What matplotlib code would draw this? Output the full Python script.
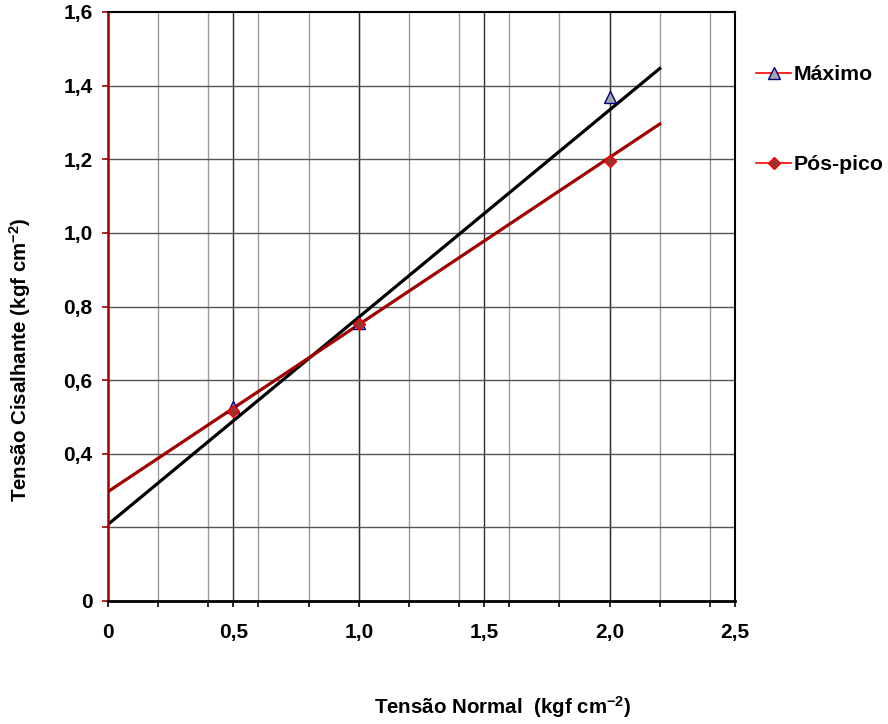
import numpy as np
import matplotlib.pyplot as plt
from matplotlib.lines import Line2D

plt.rcParams['font.family'] = ['Liberation Sans', 'DejaVu Sans']
plt.rcParams['font.weight'] = 'bold'
plt.rcParams['mathtext.fontset'] = 'custom'
plt.rcParams['mathtext.rm'] = 'Liberation Sans:bold'
plt.rcParams['mathtext.default'] = 'rm'

# normal stress (kgf cm-2) and the measured shear stresses
normal = [0.5, 1.0, 2.0]
maximo = [0.528, 0.756, 1.370]
pos_pico = [0.517, 0.753, 1.194]

# linear trend lines (intercept, slope), drawn from 0 to 2.2
trend_max = (0.208, 0.563)
trend_pos = (0.297, 0.454)
trend_x = [0, 2.2]

yticks = [0, 0.2, 0.4, 0.6, 0.8, 1.0, 1.2, 1.4, 1.6]
ylabels = ['0', '', '0,4', '0,6', '0,8', '1,0', '1,2', '1,4', '1,6']
xticks = [0, 0.5, 1.0, 1.5, 2.0, 2.5]
xlabels = ['0', '0,5', '1,0', '1,5', '2,0', '2,5']

fig = plt.figure(figsize=(8.88, 7.24), dpi=100)
ax = fig.add_axes([108 / 888, 1 - 601 / 724, 627 / 888, 589 / 724])

ax.set_xlim(0, 2.5)
ax.set_ylim(0, 1.6)

# grid: light lines every 0.2 on x, dark at the labelled values
for gx in np.arange(0.2, 2.5, 0.2):
    ax.axvline(gx, color='#9a9a9a', lw=1.0, zorder=0)
for gx in xticks[1:-1]:
    ax.axvline(gx, color='#303030', lw=1.0, zorder=0)
for gy in yticks[1:-1]:
    ax.axhline(gy, color='#555555', lw=1.0, zorder=0)

xs = np.array(trend_x)
ax.plot(xs, trend_max[0] + trend_max[1] * xs, color='black', lw=2.3, zorder=2)
ax.plot(xs, trend_pos[0] + trend_pos[1] * xs, color='#a00000', lw=2.3, zorder=2)

ax.plot(normal, maximo, ls='none', marker='^', ms=9, mfc='#a6a6b0',
        mec='#000080', mew=1.0, zorder=3, clip_on=False)
ax.plot(normal, pos_pico, ls='none', marker='D', ms=6, mfc='#993333',
        mec='#ff0000', mew=1.0, zorder=4, clip_on=False)

ax.set_yticks(yticks)
ax.set_yticklabels(ylabels)
ax.set_xticks(xticks)
ax.set_xticklabels(xlabels)
ax.set_xticks(np.arange(0.2, 2.5, 0.2), minor=True)
ax.tick_params(axis='y', direction='out', length=4, width=1.2, color='#990000',
               labelsize=15, pad=7)
ax.tick_params(axis='x', which='both', direction='out', length=4, width=1.2,
               color='black', labelsize=15, pad=12)

for s in ['top', 'right']:
    ax.spines[s].set_linewidth(1.5)
ax.spines['bottom'].set_linewidth(2.0)
ax.spines['left'].set_color('#990000')
ax.spines['left'].set_linewidth(1.8)

fig.text(20 / 888, 1 - 360 / 724, 'Tensão Cisalhante (kgf cm$^{-2}$)',
         rotation=90, ha='center', va='center', fontsize=14.8, fontweight='bold')
fig.text(503 / 888, 1 - 707 / 724, 'Tensão Normal  (kgf cm$^{-2}$)',
         ha='center', va='center', fontsize=14.8, fontweight='bold')

handles = [
    Line2D([], [], color='#ff0000', lw=1.2, marker='^', ms=9, mfc='#a6a6b0',
           mec='#000080', mew=1.0),
    Line2D([], [], color='#ff0000', lw=1.2, marker='D', ms=6, mfc='#993333',
           mec='#ff0000', mew=1.0),
]
fig.legend(handles, ['Máximo', 'Pós-pico'], loc='upper left',
           bbox_to_anchor=(756 / 888, 1 - 65 / 724), frameon=False,
           fontsize=15.3, handlelength=1.65, handletextpad=0.1,
           labelspacing=3.35, borderaxespad=0, borderpad=0)

fig.savefig('out.png', dpi=100)
